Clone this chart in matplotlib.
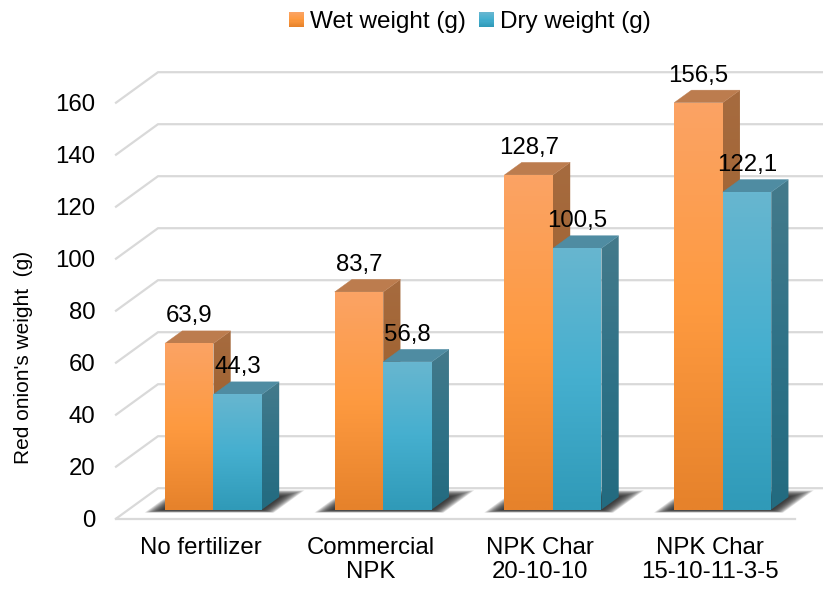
import numpy as np
import matplotlib
matplotlib.use("Agg")
import matplotlib.pyplot as plt
from matplotlib.colors import to_rgb
from matplotlib.legend_handler import HandlerBase
from matplotlib.patches import Patch, Polygon, Rectangle

plt.rcParams['font.family'] = ['Liberation Sans', 'DejaVu Sans']

categories = ["No fertilizer", "Commercial\nNPK", "NPK Char\n20-10-10", "NPK Char\n15-10-11-3-5"]
wet_weight = [63.9, 83.7, 128.7, 156.5]
dry_weight = [44.3, 56.8, 100.5, 122.1]
wet_labels = ["63,9", "83,7", "128,7", "156,5"]
dry_labels = ["44,3", "56,8", "100,5", "122,1"]
series_names = ["Wet weight (g)", "Dry weight (g)"]
y_ticks = [0, 20, 40, 60, 80, 100, 120, 140, 160]

W, H = 823, 593
AX_L, AX_R, AX_B, AX_T = 116, 795, 518.7, 102.7
FS = 17.3
GRID = "#D9D9D9"

ORANGE_FRONT = ["#FBA364", "#FE9A40", "#E6822B"]
ORANGE_SIDE = ["#A66B3F", "#A0622F", "#8F5520"]
ORANGE_TOP = "#BC7C4E"
BLUE_FRONT = ["#67B6D0", "#45AFCF", "#309AB8"]
BLUE_SIDE = ["#447A8B", "#2F7287", "#236B80"]
BLUE_TOP = "#4F8CA2"

fig = plt.figure(figsize=(W / 100, H / 100), dpi=100)
ax = fig.add_axes([AX_L / W, 1 - AX_B / H, (AX_R - AX_L) / W, (AX_B - AX_T) / H])
xlim, ylim = (-0.5, 3.5), (0, 160)
px_x = (AX_R - AX_L) / 4
px_y = (AX_B - AX_T) / 160

# Depth axis: d=0 front floor edge, d=1 back wall
DX = 42 / px_x
DY = 30.5 / px_y
D_FRONT, D_BACK = 0.30, 0.71
BAR_W = 48.5 / px_x


def pt(x, v, d):
    return (x + d * DX, v + d * DY)


def ramp(stops, n=64):
    rgb = np.array([to_rgb(c) for c in stops])
    pos = np.linspace(0, 1, len(stops))
    t = np.linspace(0, 1, n)
    return np.stack([np.interp(t, pos, rgb[:, i]) for i in range(3)], axis=1)[:, None, :]


def grad_poly(points, stops, z):
    pts = np.array(points)
    poly = Polygon(pts, closed=True, transform=ax.transData, fc="none", ec="none")
    ax.add_patch(poly)
    poly.set_clip_on(False)
    im = ax.imshow(ramp(stops), aspect="auto", origin="upper", interpolation="bilinear",
                   extent=(pts[:, 0].min(), pts[:, 0].max(), pts[:, 1].min(), pts[:, 1].max()),
                   zorder=z)
    im.set_clip_box(fig.bbox)
    im.set_clip_path(poly)


def bar3d(x0, value, front, side, top, z):
    x1 = x0 + BAR_W
    grad_poly([pt(x1, 0, D_FRONT), pt(x1, 0, D_BACK), pt(x1, value, D_BACK), pt(x1, value, D_FRONT)], side, z)
    ax.add_patch(Polygon([pt(x0, value, D_FRONT), pt(x1, value, D_FRONT), pt(x1, value, D_BACK), pt(x0, value, D_BACK)],
                         closed=True, fc=top, ec=top, lw=0.3, zorder=z, clip_on=False))
    grad_poly([pt(x0, 0, D_FRONT), pt(x1, 0, D_FRONT), pt(x1, value, D_FRONT), pt(x0, value, D_FRONT)], front, z + 0.1)


def shadow(x0, x1):
    for t in np.linspace(1, 0, 14):
        ex = (2 + 14 * t) / px_x
        d0 = D_FRONT - 0.02 - 0.08 * t
        d1 = D_BACK + 0.02 + 0.20 * t
        ax.add_patch(Polygon([pt(x0 - ex, 0, d0), pt(x1 + ex, 0, d0), pt(x1 + ex, 0, d1), pt(x0 - ex, 0, d1)],
                             closed=True, fc="#222222", ec="none", alpha=0.13, zorder=2, clip_on=False))


# Walls / gridlines
for v in y_ticks:
    a, b, c = pt(xlim[0], v, 0), pt(xlim[0], v, 1), pt(xlim[1], v, 1)
    ax.plot([a[0], b[0], c[0]], [a[1], b[1], c[1]], color=GRID, lw=1.6, zorder=1, clip_on=False,
            solid_joinstyle="miter")
a, b = pt(xlim[0], 0, 0), pt(xlim[1], 0, 0)
ax.plot([a[0], b[0]], [a[1], b[1]], color=GRID, lw=1.6, zorder=1, clip_on=False)
a, b = pt(xlim[1], 0, 0), pt(xlim[1], 0, 1)

# Bars
for i in range(len(categories)):
    shadow(i - BAR_W, i + BAR_W)
for i in range(len(categories)):
    bar3d(i - BAR_W, wet_weight[i], ORANGE_FRONT, ORANGE_SIDE, ORANGE_TOP, 3 + i * 0.5)
    bar3d(i, dry_weight[i], BLUE_FRONT, BLUE_SIDE, BLUE_TOP, 3.2 + i * 0.5)

# Data labels
for i in range(len(categories)):
    for x0, v, s in ((i - BAR_W, wet_weight[i], wet_labels[i]), (i, dry_weight[i], dry_labels[i])):
        x, y = pt(x0 + BAR_W / 2, v, D_FRONT)
        ax.annotate(s, (x, y), xytext=(0, 27 * 0.72), textcoords="offset points", ha="center", va="center",
                    fontsize=FS, color="#000000", zorder=10, annotation_clip=False)

ax.set_xlim(*xlim)
ax.set_ylim(*ylim)
ax.set_yticks(y_ticks)
ax.set_xticks(range(len(categories)))
ax.set_xticklabels(categories, fontsize=FS, linespacing=1.07)
ax.tick_params(axis="y", length=0, pad=15, labelsize=FS)
ax.tick_params(axis="x", length=0, pad=13.5)
for sp in ax.spines.values():
    sp.set_visible(False)
ax.patch.set_alpha(0)
fig.text(24 / W, 1 - 357 / H, "Red onion's weight  (g)", rotation=90, ha="center", va="center", fontsize=15)


class GradHandler(HandlerBase):
    def __init__(self, stops):
        super().__init__()
        self.stops = stops

    def create_artists(self, legend, orig, xd, yd, width, height, fontsize, trans):
        n = 14
        cols = ramp(self.stops, n)[:, 0, :]
        out = []
        for k in range(n):
            out.append(Rectangle((xd * -1, -yd + height * (n - 1 - k) / n), width, height / n * 1.05,
                                 fc=cols[k], ec="none", transform=trans))
        return out


h1, h2 = Patch(label=series_names[0]), Patch(label=series_names[1])
leg = fig.legend(handles=[h1, h2], ncol=2, frameon=False, fontsize=17.5,
                 handler_map={h1: GradHandler(ORANGE_FRONT), h2: GradHandler(BLUE_FRONT)},
                 handlelength=0.6, handleheight=0.6, handletextpad=0.25, columnspacing=0.55,
                 loc="center", bbox_to_anchor=(470 / W, 1 - 22 / H), borderpad=0, borderaxespad=0)

fig.savefig("out.png", dpi=100)
